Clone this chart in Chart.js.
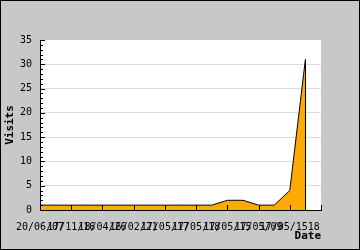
<!DOCTYPE html>
<html><head><meta charset="utf-8">
<script src="https://cdn.jsdelivr.net/npm/chart.js@4/dist/chart.umd.min.js"></script>
<style>html,body{margin:0;padding:0;background:#c8c8c8}canvas{display:block}</style>
</head><body>
<div style="width:360px;height:250px"><canvas id="c" width="360" height="250"></canvas></div>
<script>
// Tick labels shown every second category
const tickLabels = ["20/06/07","17/11/16","18/04/26","16/02/21","17/05/17","17/05/18","17/05/15","17/05/09","17/05/1518"];
// Visits per category (18 points), plus one empty slot at the axis end
const visits = [1,1,1,1,1,1,1,1,1,1,1,1,2,2,1,1,4,31];
const yTicks = [0,5,10,15,20,25,30,35];
const categories = [];
for (let i = 0; i <= visits.length; i++) categories.push(i % 2 === 0 && tickLabels[i/2] !== undefined ? tickLabels[i/2] : '');

const MONO = "'DejaVu Sans Mono', 'Liberation Mono', monospace";

const framePlugin = {
  id: 'frame',
  beforeDraw(chart) {
    const c = chart.ctx, a = chart.chartArea;
    c.save();
    c.fillStyle = '#c8c8c8';
    c.fillRect(0, 0, chart.width, chart.height);
    c.fillStyle = '#ffffff';
    c.fillRect(a.left, a.top, a.right - a.left, a.bottom - a.top);
    c.restore();
  },
  afterDraw(chart) {
    const c = chart.ctx, a = chart.chartArea;
    const xs = chart.scales.x, ys = chart.scales.y;
    c.save();
    c.strokeStyle = '#000';
    c.lineWidth = 1;
    // right edge of the filled area
    const meta = chart.getDatasetMeta(0);
    const last = meta.data[meta.data.length - 1];
    c.beginPath();
    const lx = Math.round(last.x) + 0.5;
    c.moveTo(lx, last.y);
    c.lineTo(lx, ys.getPixelForValue(0));
    c.stroke();
    // x ticks (inside), every second category
    c.beginPath();
    for (let i = 0; i < categories.length; i += 2) {
      const x = Math.round(xs.getPixelForValue(i)) + 0.5;
      c.moveTo(x, a.bottom);
      c.lineTo(x, a.bottom - 5);
    }
    // y ticks (inside): major every 5, minor every 1
    for (let v = 0; v <= ys.max; v++) {
      const y = Math.round(ys.getPixelForValue(v)) + 0.5;
      c.moveTo(a.left, y);
      c.lineTo(a.left + (v % 5 === 0 ? 5 : 3), y);
    }
    c.stroke();
    // outer border
    c.strokeRect(0.5, 0.5, chart.width - 1, chart.height - 1);
    c.restore();
  }
};

new Chart(document.getElementById('c'), {
  type: 'line',
  data: {
    labels: categories,
    datasets: [{
      data: visits,
      fill: 'origin',
      backgroundColor: '#ffaa00',
      borderColor: '#000',
      borderWidth: 1,
      pointRadius: 0,
      tension: 0
    }]
  },
  options: {
    responsive: false,
    animation: false,
    devicePixelRatio: 1,
    plugins: { legend: { display: false }, tooltip: { enabled: false } },
    layout: { padding: { left: 0, right: 39, top: 40, bottom: 0 } },
    scales: {
      x: {
        type: 'category',
        offset: false,
        grid: { display: false, drawTicks: false },
        border: { display: true, color: '#000', z: 1 },
        ticks: {
          autoSkip: false, maxRotation: 0, minRotation: 0, padding: 11, color: '#000',
          font: { family: MONO, size: 10 },
          callback: (v, i) => categories[i]
        },
        title: { display: true, text: 'Date', align: 'end', color: '#000',
          font: { family: MONO, size: 11, weight: 'bold' }, padding: { top: 0, bottom: 7 } },
        afterFit: s => { s.height = 40; }
      },
      y: {
        min: 0, max: 35,
        afterBuildTicks: s => { s.ticks = yTicks.map(v => ({ value: v })); },
        grid: { drawTicks: false, color: c => (c.tick && (c.tick.value === 0 || c.tick.value === 35)) ? 'rgba(0,0,0,0)' : '#dcdcdc' },
        border: { display: true, color: '#000', z: 1 },
        ticks: { padding: 8, color: '#000', font: { family: MONO, size: 10 } },
        title: { display: true, text: 'Visits', color: '#000',
          font: { family: MONO, size: 11, weight: 'bold' }, padding: { top: 4, bottom: 0 } },
        afterFit: s => { s.width = 40; }
      }
    }
  },
  plugins: [framePlugin]
});
</script>
</body></html>
